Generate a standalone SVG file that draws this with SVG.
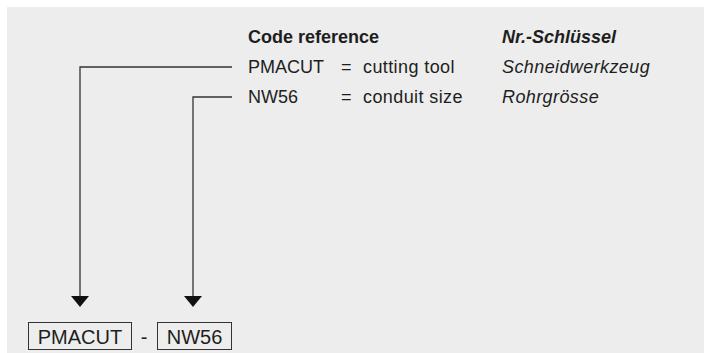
<svg xmlns="http://www.w3.org/2000/svg" width="704" height="353" viewBox="0 0 704 353">
<defs>
<style>
.t{font-family:"Liberation Sans",Arial,sans-serif;font-size:18px;fill:#1e1e1e}
.w{letter-spacing:0.4px}
.b{font-weight:bold}
.i{font-style:italic}
.c{stroke:#333;stroke-width:1.3;fill:none}
.box{fill:none;stroke:#333;stroke-width:1}
.bt{font-family:"Liberation Sans",Arial,sans-serif;font-size:20px;fill:#1e1e1e;text-anchor:middle}
</style>
</defs>
<rect x="7" y="7" width="697" height="346" fill="#ecedec"/>
<g id="legend">
<text class="t b" x="248" y="43">Code reference</text>
<text class="t b i" x="502" y="43">Nr.-Schlüssel</text>
<text class="t" x="248" y="73">PMACUT</text>
<text class="t" x="341" y="73">=</text>
<text class="t w" x="363" y="73">cutting tool</text>
<text class="t i w" x="502" y="73">Schneidwerkzeug</text>
<text class="t" x="248" y="103">NW56</text>
<text class="t" x="341" y="103">=</text>
<text class="t w" x="363" y="103">conduit size</text>
<text class="t i w" x="502" y="103">Rohrgrösse</text>
</g>
<g id="connectors">
<path class="c" d="M232,67 H80 V296"/>
<path class="c" d="M232,97 H193 V296"/>
<path d="M71,296 H89 L80,307 Z" fill="#111"/>
<path d="M184,296 H202 L193,307 Z" fill="#111"/>
</g>
<g id="node-pmacut">
<rect class="box" x="28.5" y="322.5" width="103" height="27"/>
<text class="bt" x="80" y="344">PMACUT</text>
</g>
<text class="bt" x="144" y="344">-</text>
<g id="node-nw56">
<rect class="box" x="157.5" y="322.5" width="74" height="27"/>
<text class="bt" x="194.5" y="344">NW56</text>
</g>
</svg>
